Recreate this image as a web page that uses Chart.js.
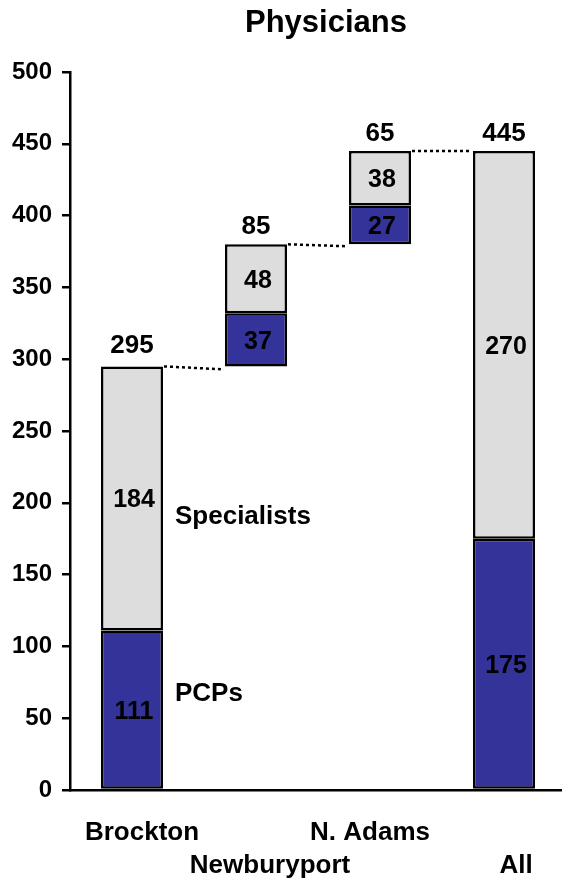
<!DOCTYPE html>
<html><head><meta charset="utf-8">
<script src="https://cdn.jsdelivr.net/npm/chart.js@4.4.0/dist/chart.umd.min.js"></script>
<style>html,body{margin:0;padding:0;background:#fff;overflow:hidden}#wrap{width:566px;height:884px;position:relative}</style>
</head><body><div id="wrap"><canvas id="c"></canvas></div>
<script>
// ---- data ----
const categories = ["Brockton", "Newburyport", "N. Adams", "All"];
const labelRow = [0, 1, 0, 1];            // which text row each category label sits in
const pcpValues = [111, 37, 27, 175];
const specialistValues = [184, 48, 38, 270];
const isTotalBar = [false, false, false, true];
const seriesNames = ["PCPs", "Specialists"];
const yTickMin = 0, yTickMax = 500, yTickStep = 50;
const chartTitle = "Physicians";

// ---- derived ----
const totals = pcpValues.map((v, i) => v + specialistValues[i]);
const bases = [];
let running = 0;
for (let i = 0; i < categories.length; i++) {
  if (isTotalBar[i]) { bases.push(0); }
  else { bases.push(running); running += totals[i]; }
}

const FONT = '"Liberation Sans", Arial, Helvetica, sans-serif';
const BLUE = "#333399", GREY = "#dddddd";
const seriesLabelValues = { "PCPs": 67, "Specialists": 190 };
const labelShift = [10, 14, -10, 12];
const rowY = [833, 866];

const overlay = {
  id: "overlay",
  afterDatasetsDraw(chart) {
    const ctx = chart.ctx;
    const x = chart.scales.x, y = chart.scales.y;
    const metaS = chart.getDatasetMeta(2);
    ctx.save();
    ctx.fillStyle = "#000";
    ctx.textAlign = "center";
    for (let i = 0; i < categories.length; i++) {
      const cx = x.getPixelForValue(i);
      const yp = y.getPixelForValue(bases[i] + pcpValues[i] / 2);
      const ys = y.getPixelForValue(bases[i] + pcpValues[i] + specialistValues[i] / 2);
      ctx.textBaseline = "middle";
      ctx.font = "bold 25px " + FONT;
      ctx.fillText(String(pcpValues[i]), cx + 2, yp + 2);
      ctx.fillText(String(specialistValues[i]), cx + 2, ys + 2);
      // totals
      ctx.font = "bold 26px " + FONT;
      ctx.textBaseline = "bottom";
      ctx.fillText(String(totals[i]), cx, y.getPixelForValue(bases[i] + totals[i]) - (i === 0 ? 8 : 4));
      // category labels
      ctx.textBaseline = "middle";
      ctx.fillText(categories[i], cx + labelShift[i], rowY[labelRow[i]]);
    }
    // connectors
    ctx.strokeStyle = "#000";
    ctx.lineWidth = 2.5;
    ctx.setLineDash([3, 3]);
    for (let i = 0; i < categories.length - 1; i++) {
      const top = bases[i] + totals[i];
      const r = metaS.data[i].x + metaS.data[i].width / 2;
      const l = metaS.data[i + 1].x - metaS.data[i + 1].width / 2;
      const py = y.getPixelForValue(top);
      ctx.beginPath();
      ctx.moveTo(r + 1, py);
      ctx.lineTo(l - 1, py + (i === 0 ? 3 : i === 1 ? 2 : 0));
      ctx.stroke();
    }
    ctx.setLineDash([]);
    // series names next to first bar
    ctx.textAlign = "left";
    ctx.textBaseline = "middle";
    ctx.font = "bold 26px " + FONT;
    const rx = metaS.data[0].x + metaS.data[0].width / 2 + 12;
    seriesNames.forEach(n => {
      ctx.fillText(n, rx, y.getPixelForValue(seriesLabelValues[n]));
    });
    // title
    ctx.font = "bold 31px " + FONT;
    ctx.textAlign = "center";
    ctx.fillText(chartTitle, 326, 23);
    ctx.restore();
  }
};

new Chart(document.getElementById("c"), {
  type: "bar",
  data: {
    labels: categories,
    datasets: [
      { label: "base", data: bases, backgroundColor: "rgba(0,0,0,0)", borderWidth: 0 },
      { label: seriesNames[0], data: pcpValues, backgroundColor: BLUE, borderColor: "#000", borderWidth: 2.5, borderSkipped: false },
      { label: seriesNames[1], data: specialistValues, backgroundColor: GREY, borderColor: "#000", borderWidth: 2.5, borderSkipped: false }
    ]
  },
  options: {
    responsive: true,
    maintainAspectRatio: false,
    animation: false,
    devicePixelRatio: 1,
    layout: { padding: { top: 72, left: 0, right: 0, bottom: 0 } },
    datasets: { bar: { barPercentage: 0.5, categoryPercentage: 1 } },
    plugins: { legend: { display: false }, title: { display: false }, tooltip: { enabled: false } },
    scales: {
      x: {
        stacked: true,
        grid: { display: false, drawTicks: false },
        border: { display: true, color: "#000", width: 2.5 },
        ticks: { display: false },
        afterFit(s) { s.height = 94; }
      },
      y: {
        stacked: true,
        min: yTickMin, max: yTickMax,
        grid: { drawOnChartArea: false, drawTicks: true, tickLength: 8, color: "#000", lineWidth: 2.5 },
        border: { display: true, color: "#000", width: 2.5 },
        ticks: { stepSize: yTickStep, color: "#000", padding: 10, font: { family: FONT, size: 24, weight: "bold" } },
        afterFit(s) { s.width = 70; }
      }
    }
  },
  plugins: [overlay]
});
</script>
</body></html>
